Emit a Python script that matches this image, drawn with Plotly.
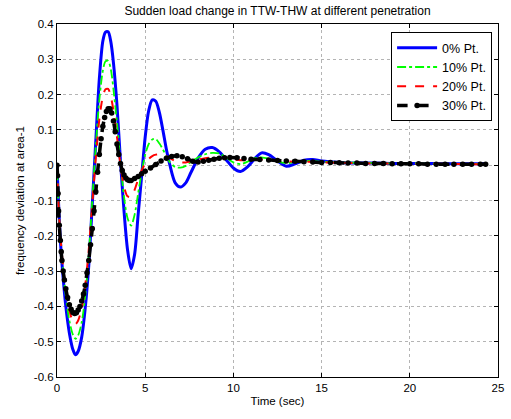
import plotly.graph_objects as go

# Time axis (s) shared by the 0%, 10% and 20% penetration responses
t = [0, 0.1, 0.2, 0.35, 0.5, 0.7, 0.9, 1.05, 1.2, 1.4, 1.6, 1.8, 2.0, 2.2, 2.4,
     2.6, 2.75, 2.9, 3.05, 3.2, 3.4, 3.6, 3.8, 4.0, 4.2, 4.4, 4.6, 4.8, 5.0, 5.2,
     5.4, 5.6, 5.8, 6.0, 6.2, 6.4, 6.7, 7.0, 7.3, 7.6, 8.0, 8.4, 8.8, 9.2, 9.6,
     10.0, 10.4, 10.8, 11.2, 11.6, 12.0, 12.5, 13.0, 13.5, 14.0, 14.5, 15.0,
     16.0, 17.0, 18.0, 19.0, 20.0, 21.0, 22.0, 23.0, 24.3]

pen_0 = [0, -0.12, -0.22, -0.32, -0.40, -0.475, -0.522, -0.537, -0.527, -0.487,
         -0.405, -0.285, -0.11, 0.07, 0.245, 0.352, 0.377, 0.378, 0.350, 0.290,
         0.170, 0.010, -0.130, -0.240, -0.293, -0.252, -0.140, -0.030, 0.080,
         0.155, 0.185, 0.181, 0.150, 0.100, 0.045, 0.0, -0.050, -0.062, -0.050,
         -0.020, 0.020, 0.045, 0.050, 0.038, 0.015, -0.008, -0.018, -0.005,
         0.018, 0.035, 0.030, 0.012, -0.003, 0.004, 0.014, 0.016, 0.012, 0.008,
         0.006, 0.006, 0.005, 0.005, 0.005, 0.004, 0.004, 0.004]

pen_10 = [0, -0.125, -0.21, -0.30, -0.37, -0.44, -0.48, -0.492, -0.482, -0.445,
          -0.370, -0.255, -0.10, 0.055, 0.185, 0.268, 0.294, 0.296, 0.272,
          0.215, 0.120, 0.010, -0.090, -0.150, -0.171, -0.140, -0.080, -0.020,
          0.030, 0.060, 0.073, 0.074, 0.062, 0.045, 0.025, 0.008, -0.005,
          -0.007, -0.002, 0.010, 0.022, 0.031, 0.035, 0.033, 0.022, 0.008,
          0.003, 0.010, 0.020, 0.022, 0.018, 0.010, 0.006, 0.008, 0.012, 0.012,
          0.010, 0.008, 0.007, 0.006, 0.005, 0.005, 0.005, 0.004, 0.004, 0.004]

pen_20 = [0, -0.125, -0.205, -0.29, -0.35, -0.41, -0.443, -0.450, -0.440,
          -0.405, -0.340, -0.240, -0.110, 0.020, 0.130, 0.195, 0.215, 0.216,
          0.195, 0.155, 0.080, 0.0, -0.060, -0.088, -0.090, -0.070, -0.040,
          -0.015, 0.005, 0.018, 0.026, 0.030, 0.031, 0.030, 0.026, 0.020,
          0.012, 0.008, 0.008, 0.011, 0.016, 0.020, 0.022, 0.022, 0.019, 0.016,
          0.014, 0.014, 0.015, 0.016, 0.015, 0.013, 0.011, 0.010, 0.010, 0.009,
          0.008, 0.007, 0.006, 0.005, 0.005, 0.004, 0.004, 0.004, 0.003, 0.003]

# 30% penetration response, logged at the solver's own time steps
t_30 = [0, 0.03, 0.06, 0.09, 0.13, 0.19, 0.24, 0.28, 0.35, 0.42, 0.5, 0.6, 0.7,
        0.8, 0.9, 1.0, 1.1, 1.2, 1.3, 1.4, 1.5, 1.6, 1.7, 1.8, 1.9, 2.0, 2.1,
        2.2, 2.3, 2.4, 2.5, 2.6, 2.7, 2.8, 2.9, 3.0, 3.1, 3.2, 3.3, 3.4, 3.5,
        3.6, 3.7, 3.8, 3.9, 4.0, 4.1, 4.2, 4.4, 4.6, 4.8, 5.0, 5.3, 5.6, 5.9,
        6.2, 6.5, 6.8, 7.1, 7.4, 7.7, 8.0, 8.3, 8.6, 8.9, 9.2, 9.5, 9.8, 10.2,
        10.6, 11.0, 11.5, 12.0, 12.5, 13.0, 13.5, 14.0, 14.5, 15.0, 15.5, 16.0,
        16.5, 17.0, 17.5, 18.0, 18.5, 19.0, 19.5, 20.0, 20.5, 21.0, 21.5, 22.0,
        22.5, 23.0, 23.5, 24.0, 24.3]

pen_30 = [0, -0.03, -0.08, -0.13, -0.17, -0.213, -0.245, -0.27, -0.30, -0.325,
          -0.35, -0.375, -0.395, -0.408, -0.417, -0.420, -0.418, -0.410,
          -0.400, -0.385, -0.365, -0.340, -0.305, -0.270, -0.225, -0.180,
          -0.130, -0.075, -0.020, 0.030, 0.075, 0.110, 0.135, 0.152, 0.160,
          0.160, 0.148, 0.125, 0.095, 0.060, 0.030, 0.005, -0.015, -0.028,
          -0.036, -0.041, -0.043, -0.043, -0.038, -0.032, -0.024, -0.017,
          -0.008, 0.002, 0.012, 0.020, 0.025, 0.027, 0.024, 0.018, 0.011, 0.009,
          0.011, 0.014, 0.017, 0.020, 0.021, 0.022, 0.021, 0.019, 0.017, 0.016,
          0.015, 0.013, 0.012, 0.011, 0.010, 0.009, 0.008, 0.008, 0.007, 0.006,
          0.006, 0.005, 0.005, 0.005, 0.004, 0.004, 0.004, 0.004, 0.003, 0.003,
          0.003, 0.003, 0.003, 0.003, 0.003, 0.003]

x_ticks = [0, 5, 10, 15, 20, 25]
x_tick_text = ["0", "5", "10", "15", "20", "25"]
y_ticks = [0.4, 0.3, 0.2, 0.1, 0, -0.1, -0.2, -0.3, -0.4, -0.5, -0.6]
y_tick_text = ["0.4", "0.3", "0.2", "0.1", "0", "-0.1", "-0.2", "-0.3",
               "-0.4", "-0.5", "-0.6"]

FONT = "Liberation Sans, Arial, sans-serif"

fig = go.Figure()
fig.add_trace(go.Scatter(x=t, y=pen_0, name="0% Pt.", mode="lines",
                         line=dict(color="#0000ff", width=3, shape="spline",
                                   smoothing=0.8)))
fig.add_trace(go.Scatter(x=t, y=pen_10, name="10% Pt.", mode="lines",
                         line=dict(color="#00ff00", width=1.8, dash="dashdot",
                                   shape="spline", smoothing=0.8)))
fig.add_trace(go.Scatter(x=t, y=pen_20, name="20% Pt.", mode="lines",
                         line=dict(color="#ff0000", width=2, dash="dash",
                                   shape="spline", smoothing=0.8)))
fig.add_trace(go.Scatter(x=t_30, y=pen_30, name="30% Pt.", mode="lines+markers",
                         line=dict(color="#000000", width=3.5, dash="dash",
                                   shape="spline", smoothing=0.8),
                         marker=dict(color="#000000", size=5.5)))

axis_common = dict(
    showline=True, linecolor="black", linewidth=1, mirror="ticks",
    ticks="inside", ticklen=4, tickcolor="black",
    showgrid=True, gridcolor="#b4b4b4", griddash="dot", gridwidth=1,
    zeroline=False, tickfont=dict(family=FONT, size=11.5, color="black"),
)

fig.update_xaxes(range=[0, 25], tickvals=x_ticks, ticktext=x_tick_text,
                 title=dict(text="Time (sec)", standoff=4,
                            font=dict(family=FONT, size=11.5, color="black")),
                 **axis_common)
fig.update_yaxes(range=[-0.6, 0.4], tickvals=y_ticks, ticktext=y_tick_text,
                 title=dict(text="frequency deviation at area-1", standoff=6,
                            font=dict(family=FONT, size=11.5, color="black")),
                 **axis_common)

fig.update_layout(
    width=511, height=419,
    margin=dict(l=57, r=7, t=24, b=42),
    paper_bgcolor="white", plot_bgcolor="white",
    font=dict(family=FONT, size=11.5, color="black"),
    title=dict(text="Sudden load change in TTW-THW at different penetration",
               x=0.5, xref="paper", y=1 - 11 / 419, yref="container",
               yanchor="middle",
               font=dict(family=FONT, size=12, color="black")),
    legend=dict(x=0.9866, y=0.977, xanchor="right", yanchor="top",
                bgcolor="white", bordercolor="black", borderwidth=1,
                itemwidth=40, font=dict(family=FONT, size=12.5, color="black"),
                tracegroupgap=0),
    showlegend=True,
)

fig.write_html("out.html")
